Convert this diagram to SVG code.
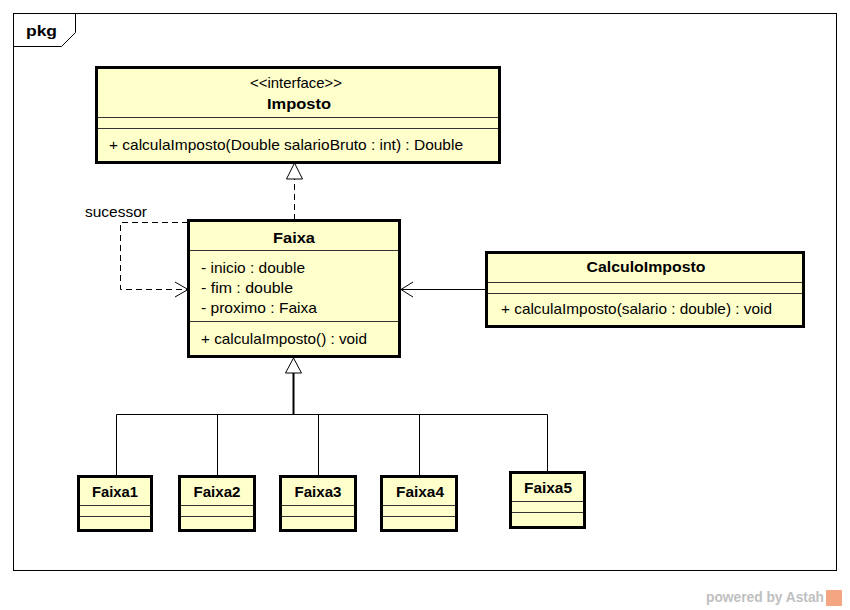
<svg xmlns="http://www.w3.org/2000/svg" width="850" height="610" viewBox="0 0 850 610">
<style>
text{font-family:"Liberation Sans",Arial,sans-serif;font-size:15px;fill:#000}
.b{font-weight:bold}
.c{text-anchor:middle}
.box{fill:#ffffcc;stroke:#000;stroke-width:3}
.div{stroke:#333;stroke-width:1}
.ln{fill:none;stroke:#000;stroke-width:1}
.dash{fill:none;stroke:#000;stroke-width:1;stroke-dasharray:6,4}
</style>
<rect x="0" y="0" width="850" height="610" fill="#fff"/>
<g id="frame">
<rect x="13.5" y="13.5" width="823" height="557" fill="none" stroke="#000"/>
<path d="M13.5 46.5 H61.5 L75.5 32.5 V13.5" fill="none" stroke="#000"/>
<text x="26" y="36" class="b" textLength="31" lengthAdjust="spacingAndGlyphs">pkg</text>
</g>
<g id="connectors">
<path class="dash" d="M294.5 220 V179"/>
<path d="M294.5 163 L286.5 179 H302.5 Z" fill="#fff" stroke="#000"/>
<path class="dash" d="M188 222.5 H120.5 V289.5 H187"/>
<path class="ln" d="M175 282 L188 289.5 L175 297"/>
<text x="85" y="217" textLength="62" lengthAdjust="spacingAndGlyphs">sucessor</text>
<path class="ln" d="M486 289.5 H401"/>
<path class="ln" d="M413 282 L401 289.5 L413 297"/>
<path d="M293.5 358 L285.5 373 H301.5 Z" fill="#fff" stroke="#000"/>
<path d="M293.5 373 V414" stroke="#000" stroke-width="2"/>
<path class="ln" d="M116.5 476 V414.5 H547.5 V472 M217.5 414.5 V476 M318.5 414.5 V476 M419.5 414.5 V476"/>
</g>
<g id="Imposto">
<rect class="box" x="96.5" y="67.5" width="403" height="95"/>
<text x="296" y="88" class="c" textLength="92" lengthAdjust="spacingAndGlyphs">&lt;&lt;interface&gt;&gt;</text>
<text x="299" y="109" class="c b" textLength="64" lengthAdjust="spacingAndGlyphs">Imposto</text>
<path class="div" d="M98 117.5 H498 M98 128.5 H498"/>
<text x="109" y="150" textLength="354" lengthAdjust="spacingAndGlyphs">+ calculaImposto(Double salarioBruto : int) : Double</text>
</g>
<g id="Faixa">
<rect class="box" x="188.5" y="220.5" width="211" height="136"/>
<text x="294" y="243" class="c b" textLength="42" lengthAdjust="spacingAndGlyphs">Faixa</text>
<path class="div" d="M190 250.5 H398 M190 321.5 H398"/>
<text x="201" y="273" textLength="104" lengthAdjust="spacingAndGlyphs">- inicio : double</text>
<text x="201" y="293" textLength="92" lengthAdjust="spacingAndGlyphs">- fim : double</text>
<text x="201" y="313" textLength="116" lengthAdjust="spacingAndGlyphs">- proximo : Faixa</text>
<text x="201" y="344" textLength="166" lengthAdjust="spacingAndGlyphs">+ calculaImposto() : void</text>
</g>
<g id="CalculoImposto">
<rect class="box" x="486.5" y="252.5" width="317" height="74"/>
<text x="646" y="272" class="c b" textLength="119" lengthAdjust="spacingAndGlyphs">CalculoImposto</text>
<path class="div" d="M488 282.5 H802 M488 293.5 H802"/>
<text x="501" y="314" textLength="271" lengthAdjust="spacingAndGlyphs">+ calculaImposto(salario : double) : void</text>
</g>
<g id="Faixa1">
<rect class="box" x="78.5" y="476.5" width="73" height="54"/>
<text x="115" y="497" class="c b" textLength="46" lengthAdjust="spacingAndGlyphs">Faixa1</text>
<path class="div" d="M80 505.5 H150 M80 516.5 H150"/>
</g>
<g id="Faixa2">
<rect class="box" x="179.5" y="476.5" width="75" height="54"/>
<text x="217" y="497" class="c b" textLength="47" lengthAdjust="spacingAndGlyphs">Faixa2</text>
<path class="div" d="M181 505.5 H253 M181 516.5 H253"/>
</g>
<g id="Faixa3">
<rect class="box" x="280.5" y="476.5" width="75" height="54"/>
<text x="318" y="497" class="c b" textLength="47" lengthAdjust="spacingAndGlyphs">Faixa3</text>
<path class="div" d="M282 505.5 H354 M282 516.5 H354"/>
</g>
<g id="Faixa4">
<rect class="box" x="381.5" y="476.5" width="75" height="54"/>
<text x="420" y="497" class="c b" textLength="48" lengthAdjust="spacingAndGlyphs">Faixa4</text>
<path class="div" d="M383 505.5 H455 M383 516.5 H455"/>
</g>
<g id="Faixa5">
<rect class="box" x="510.5" y="472.5" width="74" height="55"/>
<text x="548" y="493" class="c b" textLength="48" lengthAdjust="spacingAndGlyphs">Faixa5</text>
<path class="div" d="M512 501.5 H583 M512 512.5 H583"/>
</g>
<g id="watermark">
<text x="706" y="602" class="b" style="fill:#c0c0c0;font-size:14px" textLength="118" lengthAdjust="spacingAndGlyphs">powered by Astah</text>
<rect x="826" y="590" width="16" height="16" fill="#f4a582"/>
</g>
</svg>
